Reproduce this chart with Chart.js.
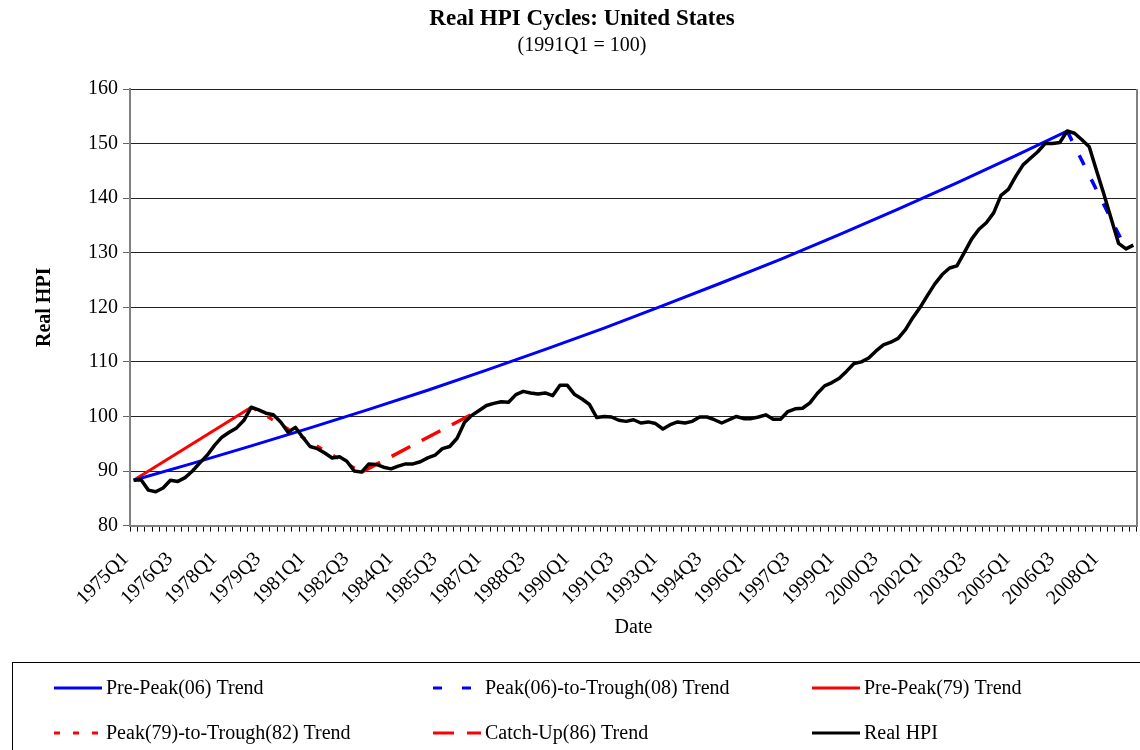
<!DOCTYPE html>
<html>
<head>
<meta charset="utf-8">
<script src="https://cdn.jsdelivr.net/npm/chart.js@4.4.1/dist/chart.umd.min.js"></script>
<style>
  html, body { margin: 0; padding: 0; background: #fff; }
  #wrap { width: 1140px; height: 750px; position: relative; }
</style>
</head>
<body>
<div id="wrap"><canvas id="hpi"></canvas></div>
<script>
// quarterly categories, 1975Q1 .. 2009Q1
const quarters = [];
for (let y = 1975; y <= 2009; y++) {
  for (let q = 1; q <= 4; q++) {
    if (y === 2009 && q > 1) break;
    quarters.push(y + 'Q' + q);
  }
}

const realHpi = [
  88.3, 88.4, 86.5, 86.2, 86.9, 88.3, 88.1, 88.8, 90.0, 91.5,
  92.9, 94.7, 96.2, 97.1, 97.9, 99.3, 101.7, 101.2, 100.6, 100.3,
  99.0, 97.1, 98.0, 96.2, 94.5, 94.1, 93.3, 92.4, 92.6, 91.8,
  90.0, 89.8, 91.3, 91.2, 90.7, 90.4, 90.9, 91.3, 91.3, 91.7,
  92.4, 92.9, 94.1, 94.5, 96.0, 98.9, 100.2, 101.1, 102.0, 102.4,
  102.7, 102.6, 104.0, 104.6, 104.3, 104.1, 104.3, 103.8, 105.7, 105.7,
  104.0, 103.2, 102.2, 99.8, 100.0, 99.9, 99.3, 99.1, 99.4, 98.8,
  99.0, 98.7, 97.7, 98.5, 99.0, 98.8, 99.1, 99.9, 99.9, 99.4,
  98.8, 99.4, 100.0, 99.6, 99.6, 99.9, 100.3, 99.5, 99.5, 100.9,
  101.4, 101.5, 102.5, 104.2, 105.6, 106.2, 107.0, 108.3, 109.7, 110.0,
  110.7, 112.0, 113.1, 113.6, 114.3, 115.9, 118.1, 120.0, 122.2, 124.3,
  126.0, 127.2, 127.6, 130.0, 132.5, 134.3, 135.5, 137.3, 140.5, 141.6,
  144.0, 146.1, 147.3, 148.5, 150.0, 150.0, 150.2, 152.3, 151.9, 150.7,
  149.4, 145.0, 140.7, 136.2, 131.7, 130.7, 131.4
];

// trend lines
const prePeak06Quarters = ['1975Q1', '1977Q1', '1979Q1', '1981Q1', '1983Q1', '1985Q1',
  '1987Q1', '1989Q1', '1991Q1', '1993Q1', '1995Q1', '1997Q1', '1999Q1', '2001Q1',
  '2003Q1', '2005Q1', '2006Q4'];
const prePeak06Values = [88.3, 91.4, 94.6, 97.9, 101.3, 104.8, 108.5, 112.3, 116.2,
  120.3, 124.5, 128.8, 133.3, 138.0, 142.8, 147.8, 152.3];
const peakTrough08Quarters = ['2006Q4', '2008Q4'];
const peakTrough08Values = [152.3, 130.7];
const prePeak79Quarters = ['1975Q1', '1979Q1'];
const prePeak79Values = [88.3, 101.7];
const peakTrough82Quarters = ['1979Q1', '1982Q4'];
const peakTrough82Values = [101.7, 89.8];
const catchUp86Quarters = ['1982Q4', '1986Q4'];
const catchUp86Values = [89.8, 101.1];

const yMin = 80, yMax = 160, yStep = 10;
const labelEvery = 6;

const pts = (qs, vs) => qs.map((q, i) => ({ x: q, y: vs[i] }));

Chart.defaults.font.family = '"Liberation Serif", "Times New Roman", serif';
Chart.defaults.color = '#000';

// legend in a box under the chart, three columns
const boxLegend = {
  id: 'boxLegend',
  afterDraw(chart) {
    const ctx = chart.ctx;
    const a = chart.chartArea;
    ctx.save();
    // right edge of plot area
    ctx.strokeStyle = '#808080';
    ctx.lineWidth = 2;
    ctx.beginPath();
    ctx.moveTo(a.right, a.top);
    ctx.lineTo(a.right, a.bottom);
    ctx.stroke();

    ctx.strokeStyle = '#000';
    ctx.lineWidth = 1;
    ctx.strokeRect(12.5, 662.5, 1140, 100);
    ctx.font = '20px "Liberation Serif"';
    ctx.textBaseline = 'middle';
    ctx.fillStyle = '#000';
    chart.data.datasets.forEach((ds, k) => {
      const x = 54 + 379 * (k % 3);
      const y = k < 3 ? 688 : 733;
      ctx.beginPath();
      ctx.setLineDash(ds.legendDash || []);
      ctx.strokeStyle = ds.borderColor;
      ctx.lineWidth = 3;
      ctx.moveTo(x, y);
      ctx.lineTo(x + 48, y);
      ctx.stroke();
      ctx.setLineDash([]);
      ctx.fillText(ds.label, x + 52, y + 1);
    });
    ctx.restore();
  }
};

new Chart(document.getElementById('hpi'), {
  type: 'line',
  data: {
    labels: quarters,
    datasets: [
      { label: 'Pre-Peak(06) Trend', data: pts(prePeak06Quarters, prePeak06Values),
        borderColor: '#0000FF', borderWidth: 3, order: 2 },
      { label: 'Peak(06)-to-Trough(08) Trend', data: pts(peakTrough08Quarters, peakTrough08Values),
        borderColor: '#0000FF', borderWidth: 3.5, borderDash: [11, 16], legendDash: [9, 20], order: 1 },
      { label: 'Pre-Peak(79) Trend', data: pts(prePeak79Quarters, prePeak79Values),
        borderColor: '#FF0000', borderWidth: 3, order: 2 },
      { label: 'Peak(79)-to-Trough(82) Trend', data: pts(peakTrough82Quarters, peakTrough82Values),
        borderColor: '#FF0000', borderWidth: 3, borderDash: [6, 13], legendDash: [6, 13], order: 2 },
      { label: 'Catch-Up(86) Trend', data: pts(catchUp86Quarters, catchUp86Values),
        borderColor: '#FF0000', borderWidth: 3.5, borderDash: [21, 13], legendDash: [21, 13], order: 2 },
      { label: 'Real HPI', data: realHpi,
        borderColor: '#000000', borderWidth: 3.5, order: 0 }
    ]
  },
  options: {
    responsive: true,
    maintainAspectRatio: false,
    animation: false,
    layout: { padding: { left: 27, right: 3, top: 0, bottom: 89 } },
    elements: {
      point: { radius: 0, hoverRadius: 0 },
      line: { tension: 0, borderJoinStyle: 'round', fill: false }
    },
    plugins: {
      legend: { display: false },
      tooltip: { enabled: false },
      title: {
        display: true,
        text: 'Real HPI Cycles: United States',
        font: { size: 23, weight: 'bold' },
        padding: { top: 5, bottom: 0 }
      },
      subtitle: {
        display: true,
        text: '(1991Q1 = 100)',
        color: '#000',
        font: { size: 20 },
        padding: { top: 1.4, bottom: 31 }
      }
    },
    scales: {
      x: {
        type: 'category',
        offset: true,
        afterFit: (s) => { s.height = 135.4; s.paddingLeft = 0; s.paddingRight = 0; },
        grid: { display: true, drawOnChartArea: false, offset: true, tickLength: 6, color: '#000' },
        border: { display: true, color: '#808080', width: 2 },
        ticks: {
          autoSkip: false,
          minRotation: 45,
          maxRotation: 45,
          padding: 16,
          labelOffset: -8,
          font: { size: 20 },
          callback: (v, i) => (i % labelEvery === 0 ? quarters[i] : '')
        },
        title: { display: true, text: 'Date', font: { size: 20 }, padding: { top: 0, bottom: 21 } }
      },
      y: {
        min: yMin,
        max: yMax,
        afterFit: (s) => { s.width = 103; },
        grid: { color: '#222', lineWidth: 1, tickLength: 7, tickColor: '#666' },
        border: { display: true, color: '#808080', width: 2 },
        ticks: { stepSize: yStep, padding: 5, font: { size: 20 } },
        title: { display: true, text: 'Real HPI', font: { size: 20, weight: 'bold' }, padding: { top: 6, bottom: 0 } }
      }
    }
  },
  plugins: [boxLegend]
});
</script>
</body>
</html>
